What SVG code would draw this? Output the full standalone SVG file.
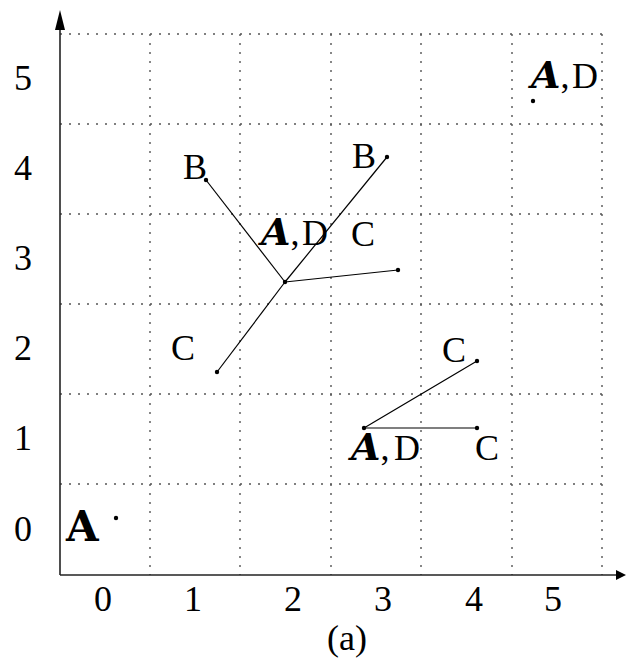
<svg xmlns="http://www.w3.org/2000/svg" width="626" height="660" viewBox="0 0 626 660">
<style>
.grid{stroke:#555;stroke-width:1.4;stroke-dasharray:2 7;fill:none}
.axis{stroke:#222;stroke-width:1.6;fill:none}
.edge{stroke:#000;stroke-width:1.2;fill:none}
.dot{fill:#000}
text{font-family:"Liberation Serif","Times New Roman",serif;font-size:36px;fill:#000}
.num{text-anchor:middle}
.ba{font-family:"DejaVu Serif",serif;font-weight:bold;font-size:42px}
.bi{font-family:"DejaVu Serif",serif;font-weight:bold;font-style:italic;font-size:38px}
</style>
<rect width="626" height="660" fill="#fff"/>
<g id="grid">
<line class="grid" x1="60" y1="34" x2="602" y2="34"/>
<line class="grid" x1="60" y1="124" x2="602" y2="124"/>
<line class="grid" x1="60" y1="214" x2="602" y2="214"/>
<line class="grid" x1="60" y1="304" x2="602" y2="304"/>
<line class="grid" x1="60" y1="394" x2="602" y2="394"/>
<line class="grid" x1="60" y1="484" x2="602" y2="484"/>
<line class="grid" x1="150" y1="34" x2="150" y2="575"/>
<line class="grid" x1="240" y1="34" x2="240" y2="575"/>
<line class="grid" x1="331" y1="34" x2="331" y2="575"/>
<line class="grid" x1="421" y1="34" x2="421" y2="575"/>
<line class="grid" x1="512" y1="34" x2="512" y2="575"/>
<line class="grid" x1="602" y1="34" x2="602" y2="575"/>
</g>
<g id="axes">
<line class="axis" x1="60" y1="575" x2="60" y2="26"/>
<polygon points="60,10 55,30 65,30" fill="#000"/>
<line class="axis" x1="60" y1="575" x2="618" y2="575"/>
<polygon points="626,575 616,570 616,580" fill="#000"/>
</g>
<g id="axis-labels">
<text class="num" x="23" y="90">5</text>
<text class="num" x="23" y="180">4</text>
<text class="num" x="23" y="270">3</text>
<text class="num" x="23" y="360">2</text>
<text class="num" x="23" y="450">1</text>
<text class="num" x="23" y="541">0</text>
<text class="num" x="103" y="611">0</text>
<text class="num" x="193" y="611">1</text>
<text class="num" x="293" y="611">2</text>
<text class="num" x="383" y="611">3</text>
<text class="num" x="474" y="611">4</text>
<text class="num" x="553" y="611">5</text>
<text class="num" x="347" y="650">(a)</text>
</g>
<g id="connectors">
<line class="edge" x1="285" y1="282" x2="206" y2="180"/>
<line class="edge" x1="285" y1="282" x2="387" y2="157"/>
<line class="edge" x1="285" y1="282" x2="398" y2="270"/>
<line class="edge" x1="285" y1="282" x2="217" y2="372"/>
<line class="edge" x1="364" y1="428" x2="477" y2="361"/>
<line class="edge" x1="364" y1="428" x2="477" y2="428"/>
</g>
<g id="node-a0">
<circle class="dot" cx="116" cy="518" r="2.2"/>
<text class="ba" x="66" y="541">A</text>
</g>
<g id="node-center">
<circle class="dot" cx="285" cy="282" r="2.2"/>
<text x="261" y="245"><tspan class="bi">A</tspan><tspan>,</tspan><tspan x="302">D</tspan></text>
</g>
<g id="node-b1">
<circle class="dot" cx="206" cy="180" r="2.2"/>
<text x="183" y="179">B</text>
</g>
<g id="node-b2">
<circle class="dot" cx="387" cy="157" r="2.2"/>
<text x="352" y="168">B</text>
</g>
<g id="node-c1">
<circle class="dot" cx="398" cy="270" r="2.2"/>
<text x="351" y="246">C</text>
</g>
<g id="node-c2">
<circle class="dot" cx="217" cy="372" r="2.2"/>
<text x="171" y="360">C</text>
</g>
<g id="node-lower">
<circle class="dot" cx="364" cy="428" r="2.2"/>
<text x="351" y="460"><tspan class="bi">A</tspan><tspan>,</tspan><tspan x="394">D</tspan></text>
</g>
<g id="node-c3">
<circle class="dot" cx="477" cy="361" r="2.2"/>
<text x="442" y="362">C</text>
</g>
<g id="node-c4">
<circle class="dot" cx="477" cy="428" r="2.2"/>
<text x="475" y="460">C</text>
</g>
<g id="node-topright">
<circle class="dot" cx="533" cy="101" r="2.2"/>
<text x="531" y="88"><tspan class="bi">A</tspan><tspan>,</tspan><tspan x="572">D</tspan></text>
</g>
</svg>
